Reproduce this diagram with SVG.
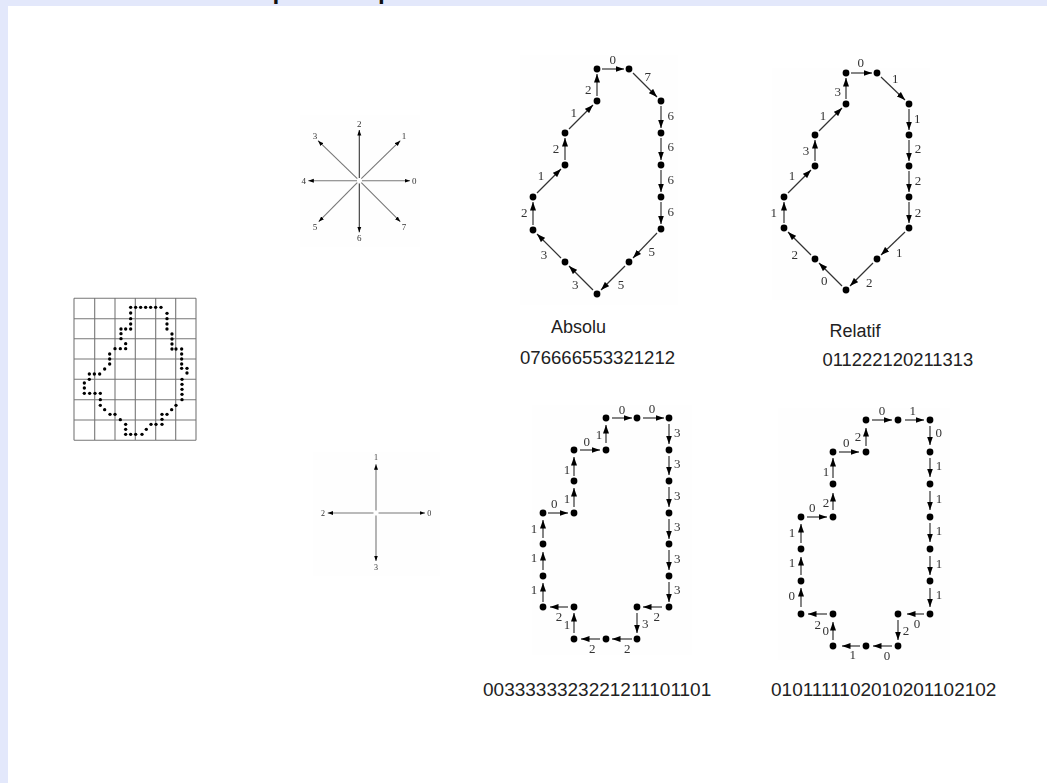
<svg xmlns="http://www.w3.org/2000/svg" width="1047" height="783" viewBox="0 0 1047 783">
<style>
.n{font-family:"Liberation Serif","Times New Roman",serif;font-size:13px;fill:#333;text-anchor:middle;dominant-baseline:central}
.s{font-family:"Liberation Serif","Times New Roman",serif;font-size:9px;fill:#333;text-anchor:middle;dominant-baseline:central}
.t{font-family:"Liberation Sans",Arial,sans-serif;fill:#222}
.c{fill:#000}
.g{stroke:#777;stroke-width:1.1;fill:none}
.a line{stroke:#333;stroke-width:1.2;marker-end:url(#ah)}
.st line{stroke:#777;stroke-width:1.1;marker-end:url(#sh)}
.st line.k{stroke:#333}
</style>
<defs>
<marker id="ah" markerUnits="userSpaceOnUse" markerWidth="9" markerHeight="7" refX="8.5" refY="3.5" orient="auto"><path d="M0,.5 L8.5,3.5 L0,6.5 z" fill="#000"/></marker>
<marker id="sh" markerUnits="userSpaceOnUse" markerWidth="6" markerHeight="5" refX="5.5" refY="2.5" orient="auto"><path d="M0,.5 L5.5,2.5 L0,4.5 z" fill="#000"/></marker>
<filter id="b" x="-5%" y="-5%" width="110%" height="110%"><feGaussianBlur stdDeviation="0.3"/></filter>
</defs>
<rect width="1047" height="783" fill="#e3e8fb"/>
<rect x="8" y="6" width="1039" height="777" fill="#fff"/>
<text x="272.5" y="-1.5" font-family="'Liberation Mono',monospace" font-weight="bold" font-size="24" fill="#111">p</text>
<text x="378" y="-1.5" font-family="'Liberation Mono',monospace" font-weight="bold" font-size="24" fill="#111">p</text>
<g fill="#fefefe"><rect x="300" y="115" width="120" height="132"/><rect x="313" y="452" width="127" height="124"/><rect x="520" y="55" width="158" height="250"/><rect x="772" y="68" width="158" height="232"/><rect x="532" y="405" width="160" height="250"/><rect x="778" y="408" width="172" height="252"/></g>

<g id="grid-figure" filter="url(#b)">
<path class="g" d="M74 298.3H196M74 318.7H196M74 338.7H196M74 359H196M74 379.3H196M74 399.7H196M74 420H196M74 440.3H196M74 298.3V440.3M94.7 298.3V440.3M115 298.3V440.3M135.3 298.3V440.3M155.7 298.3V440.3M175.7 298.3V440.3M196 298.3V440.3"/>
<g class="c" transform="translate(60 285) scale(.3333)">
<circle r="5" cx="212" cy="67"/><circle r="5" cx="227" cy="67"/><circle r="5" cx="242" cy="67"/><circle r="5" cx="257" cy="67"/><circle r="5" cx="272" cy="67"/><circle r="5" cx="287" cy="67"/><circle r="5" cx="303" cy="67"/>
<circle r="5" cx="321" cy="85"/><circle r="5" cx="321" cy="101"/><circle r="5" cx="321" cy="117"/><circle r="5" cx="321" cy="132"/>
<circle r="5" cx="336" cy="147"/><circle r="5" cx="336" cy="162"/><circle r="5" cx="336" cy="177"/><circle r="5" cx="336" cy="192"/><circle r="5" cx="348" cy="192"/>
<circle r="5" cx="365" cy="192"/><circle r="5" cx="365" cy="207"/><circle r="5" cx="365" cy="222"/><circle r="5" cx="365" cy="237"/><circle r="5" cx="365" cy="250"/><circle r="5" cx="381" cy="250"/><circle r="5" cx="381" cy="264"/>
<circle r="5" cx="366" cy="283"/><circle r="5" cx="366" cy="298"/><circle r="5" cx="366" cy="313"/><circle r="5" cx="366" cy="328"/><circle r="5" cx="366" cy="344"/>
<circle r="5" cx="348" cy="361"/><circle r="5" cx="335" cy="374"/><circle r="5" cx="321" cy="388"/><circle r="5" cx="306" cy="388"/><circle r="5" cx="306" cy="403"/><circle r="5" cx="306" cy="418"/>
<circle r="5" cx="288" cy="418"/><circle r="5" cx="273" cy="418"/><circle r="5" cx="259" cy="433"/><circle r="5" cx="246" cy="448"/><circle r="5" cx="227" cy="448"/><circle r="5" cx="212" cy="448"/><circle r="5" cx="197" cy="448"/><circle r="5" cx="197" cy="433"/><circle r="5" cx="197" cy="418"/>
<circle r="5" cx="181" cy="404"/><circle r="5" cx="165" cy="388"/><circle r="5" cx="150" cy="388"/><circle r="5" cx="134" cy="374"/><circle r="5" cx="121" cy="361"/><circle r="5" cx="121" cy="344"/><circle r="5" cx="121" cy="325"/><circle r="5" cx="105" cy="325"/><circle r="5" cx="89" cy="325"/><circle r="5" cx="73" cy="325"/><circle r="5" cx="73" cy="309"/><circle r="5" cx="73" cy="294"/>
<circle r="5" cx="88" cy="283"/><circle r="5" cx="88" cy="267"/><circle r="5" cx="103" cy="267"/><circle r="5" cx="119" cy="267"/><circle r="5" cx="134" cy="252"/><circle r="5" cx="149" cy="237"/><circle r="5" cx="149" cy="222"/><circle r="5" cx="149" cy="207"/>
<circle r="5" cx="165" cy="191"/><circle r="5" cx="181" cy="191"/><circle r="5" cx="197" cy="191"/><circle r="5" cx="197" cy="176"/><circle r="5" cx="183" cy="161"/><circle r="5" cx="183" cy="146"/><circle r="5" cx="183" cy="132"/><circle r="5" cx="197" cy="132"/><circle r="5" cx="212" cy="132"/><circle r="5" cx="212" cy="117"/><circle r="5" cx="212" cy="101"/><circle r="5" cx="212" cy="84"/>
</g>
</g>

<g id="star8" class="st" filter="url(#b)">
<line x1="362" y1="180.7" x2="410" y2="180.7"/><line class="k" x1="359.3" y1="178" x2="359.3" y2="130"/><line x1="357" y1="180.7" x2="308.3" y2="180.7"/><line class="k" x1="359.3" y1="183.5" x2="359.3" y2="232.3"/>
<line x1="361.3" y1="178.7" x2="400.3" y2="140.7"/><line x1="357.3" y1="178.7" x2="318" y2="140.7"/><line x1="357.3" y1="182.7" x2="318.7" y2="221.7"/><line x1="361.3" y1="182.7" x2="400.3" y2="221.7"/>
<text class="s" x="414.3" y="181">0</text><text class="s" x="404" y="135.7">1</text><text class="s" x="359.3" y="124.3">2</text><text class="s" x="315" y="135.7">3</text><text class="s" x="303.7" y="181">4</text><text class="s" x="315" y="226.7">5</text><text class="s" x="359.3" y="237.7">6</text><text class="s" x="404" y="226.7">7</text>
</g>
<g id="star4" class="st" filter="url(#b)">
<line x1="378.5" y1="513" x2="425" y2="513"/><line x1="376" y1="510.5" x2="376" y2="464.3"/><line x1="373.5" y1="513" x2="327.7" y2="513"/><line x1="376" y1="515.5" x2="376" y2="561"/>
<text class="s" x="429.3" y="513" style="font-size:8px">0</text><text class="s" x="376" y="457.7" style="font-size:8px">1</text><text class="s" x="323" y="513" style="font-size:8px">2</text><text class="s" x="376" y="567.7" style="font-size:8px">3</text>
</g>

<g id="connectors" class="a" filter="url(#b)">
<g id="conn-absolu8">
<line x1="602" y1="69" x2="624" y2="69"/><line x1="633" y1="73" x2="657" y2="97"/><line x1="661" y1="106" x2="661" y2="128"/><line x1="661" y1="138" x2="661" y2="160"/><line x1="661" y1="170" x2="661" y2="192"/><line x1="661" y1="202" x2="661" y2="224"/><line x1="657" y1="233" x2="633" y2="258"/><line x1="625" y1="266" x2="601" y2="290"/><line x1="593" y1="290" x2="569" y2="266"/><line x1="561" y1="258" x2="537" y2="234"/><line x1="533" y1="225" x2="533" y2="202"/><line x1="537" y1="193" x2="561" y2="169"/><line x1="565" y1="160" x2="565" y2="138"/><line x1="569" y1="129" x2="593" y2="105"/><line x1="597" y1="96" x2="597" y2="74"/>
</g>
<g id="conn-relatif8">
<line x1="851" y1="73" x2="872" y2="73"/><line x1="881" y1="77" x2="905" y2="100"/><line x1="909" y1="109" x2="909" y2="130"/><line x1="909" y1="140" x2="909" y2="161"/><line x1="909" y1="171" x2="909" y2="192"/><line x1="909" y1="202" x2="909" y2="223"/><line x1="905" y1="232" x2="881" y2="255"/><line x1="873" y1="263" x2="850" y2="286"/><line x1="842" y1="286" x2="819" y2="263"/><line x1="811" y1="255" x2="788" y2="232"/><line x1="784" y1="223" x2="784" y2="202"/><line x1="788" y1="193" x2="811" y2="170"/><line x1="815" y1="161" x2="815" y2="140"/><line x1="819" y1="131" x2="842" y2="108"/><line x1="846" y1="99" x2="846" y2="78"/>
</g>
<g id="conn-absolu4">
<line x1="612" y1="418" x2="632" y2="418"/><line x1="643" y1="418" x2="664" y2="418"/><line x1="669" y1="424" x2="669" y2="444"/><line x1="669" y1="456" x2="669" y2="475"/><line x1="669" y1="487" x2="669" y2="507"/><line x1="669" y1="519" x2="669" y2="539"/><line x1="669" y1="550" x2="669" y2="570"/><line x1="669" y1="582" x2="669" y2="602"/><line x1="662" y1="607" x2="643" y2="607"/><line x1="637" y1="613" x2="637" y2="633"/><line x1="632" y1="639" x2="612" y2="639"/><line x1="600" y1="639" x2="581" y2="639"/><line x1="574" y1="633" x2="574" y2="613"/><line x1="568" y1="607" x2="550" y2="607"/><line x1="543" y1="602" x2="543" y2="583"/><line x1="543" y1="570" x2="543" y2="552"/><line x1="543" y1="538" x2="543" y2="520"/><line x1="548" y1="513" x2="568" y2="513"/><line x1="574" y1="507" x2="574" y2="488"/><line x1="574" y1="476" x2="574" y2="457"/><line x1="580" y1="450" x2="600" y2="450"/><line x1="606" y1="443" x2="606" y2="425"/>
</g>
<g id="conn-relatif4">
<line x1="872" y1="420" x2="892" y2="420"/><line x1="905" y1="420" x2="924" y2="420"/><line x1="930" y1="426" x2="930" y2="445"/><line x1="930" y1="458" x2="930" y2="477"/><line x1="930" y1="491" x2="930" y2="510"/><line x1="930" y1="523" x2="930" y2="542"/><line x1="930" y1="556" x2="930" y2="575"/><line x1="930" y1="588" x2="930" y2="607"/><line x1="924" y1="614" x2="907" y2="614"/><line x1="898" y1="620" x2="898" y2="640"/><line x1="892" y1="646" x2="873" y2="646"/><line x1="860" y1="646" x2="842" y2="646"/><line x1="833" y1="640" x2="833" y2="622"/><line x1="827" y1="614" x2="808" y2="614"/><line x1="801" y1="607" x2="801" y2="588"/><line x1="801" y1="575" x2="801" y2="557"/><line x1="801" y1="543" x2="801" y2="524"/><line x1="807" y1="517" x2="827" y2="517"/><line x1="833" y1="510" x2="833" y2="493"/><line x1="833" y1="478" x2="833" y2="458"/><line x1="839" y1="452" x2="859" y2="452"/><line x1="866" y1="446" x2="866" y2="428"/>
</g>
</g>

<g id="nodes" class="c" filter="url(#b)">
<g id="absolu8-nodes">
<g id="a1"><circle r="3.4" cx="597" cy="69"/></g><g id="a2"><circle r="3.4" cx="629" cy="69"/></g><g id="a3"><circle r="3.4" cx="661" cy="101"/></g><g id="a4"><circle r="3.4" cx="661" cy="133"/></g><g id="a5"><circle r="3.4" cx="661" cy="165"/></g><g id="a6"><circle r="3.4" cx="661" cy="197"/></g><g id="a7"><circle r="3.4" cx="661" cy="229"/></g><g id="a8"><circle r="3.4" cx="629" cy="262"/></g><g id="a9"><circle r="3.4" cx="597" cy="294"/></g><g id="a10"><circle r="3.4" cx="565" cy="262"/></g><g id="a11"><circle r="3.4" cx="533" cy="230"/></g><g id="a12"><circle r="3.4" cx="533" cy="197"/></g><g id="a13"><circle r="3.4" cx="565" cy="165"/></g><g id="a14"><circle r="3.4" cx="565" cy="133"/></g><g id="a15"><circle r="3.4" cx="597" cy="101"/></g>
</g>
<g id="relatif8-nodes">
<g id="b1"><circle r="3.4" cx="846" cy="73"/></g><g id="b2"><circle r="3.4" cx="877" cy="73"/></g><g id="b3"><circle r="3.4" cx="909" cy="104"/></g><g id="b4"><circle r="3.4" cx="909" cy="135"/></g><g id="b5"><circle r="3.4" cx="909" cy="166"/></g><g id="b6"><circle r="3.4" cx="909" cy="197"/></g><g id="b7"><circle r="3.4" cx="909" cy="228"/></g><g id="b8"><circle r="3.4" cx="877" cy="259"/></g><g id="b9"><circle r="3.4" cx="846" cy="290"/></g><g id="b10"><circle r="3.4" cx="815" cy="259"/></g><g id="b11"><circle r="3.4" cx="784" cy="228"/></g><g id="b12"><circle r="3.4" cx="784" cy="197"/></g><g id="b13"><circle r="3.4" cx="815" cy="166"/></g><g id="b14"><circle r="3.4" cx="815" cy="135"/></g><g id="b15"><circle r="3.4" cx="846" cy="104"/></g>
</g>
<g id="absolu4-nodes">
<g id="c1"><circle r="3.4" cx="606" cy="418"/></g><g id="c2"><circle r="3.4" cx="637" cy="418"/></g><g id="c3"><circle r="3.4" cx="669" cy="418"/></g><g id="c4"><circle r="3.4" cx="669" cy="450"/></g><g id="c5"><circle r="3.4" cx="669" cy="481"/></g><g id="c6"><circle r="3.4" cx="669" cy="513"/></g><g id="c7"><circle r="3.4" cx="669" cy="544"/></g><g id="c8"><circle r="3.4" cx="669" cy="576"/></g><g id="c9"><circle r="3.4" cx="669" cy="607"/></g><g id="c10"><circle r="3.4" cx="637" cy="607"/></g><g id="c11"><circle r="3.4" cx="637" cy="639"/></g><g id="c12"><circle r="3.4" cx="606" cy="639"/></g><g id="c13"><circle r="3.4" cx="574" cy="639"/></g><g id="c14"><circle r="3.4" cx="574" cy="607"/></g><g id="c15"><circle r="3.4" cx="543" cy="607"/></g><g id="c16"><circle r="3.4" cx="543" cy="576"/></g><g id="c17"><circle r="3.4" cx="543" cy="544"/></g><g id="c18"><circle r="3.4" cx="543" cy="513"/></g><g id="c19"><circle r="3.4" cx="574" cy="513"/></g><g id="c20"><circle r="3.4" cx="574" cy="481"/></g><g id="c21"><circle r="3.4" cx="574" cy="450"/></g><g id="c22"><circle r="3.4" cx="606" cy="450"/></g>
</g>
<g id="relatif4-nodes">
<g id="d1"><circle r="3.4" cx="866" cy="420"/></g><g id="d2"><circle r="3.4" cx="898" cy="420"/></g><g id="d3"><circle r="3.4" cx="930" cy="420"/></g><g id="d4"><circle r="3.4" cx="930" cy="452"/></g><g id="d5"><circle r="3.4" cx="930" cy="484"/></g><g id="d6"><circle r="3.4" cx="930" cy="517"/></g><g id="d7"><circle r="3.4" cx="930" cy="549"/></g><g id="d8"><circle r="3.4" cx="930" cy="581"/></g><g id="d9"><circle r="3.4" cx="930" cy="614"/></g><g id="d10"><circle r="3.4" cx="898" cy="614"/></g><g id="d11"><circle r="3.4" cx="898" cy="646"/></g><g id="d12"><circle r="3.4" cx="866" cy="646"/></g><g id="d13"><circle r="3.4" cx="833" cy="646"/></g><g id="d14"><circle r="3.4" cx="833" cy="614"/></g><g id="d15"><circle r="3.4" cx="801" cy="614"/></g><g id="d16"><circle r="3.4" cx="801" cy="581"/></g><g id="d17"><circle r="3.4" cx="801" cy="549"/></g><g id="d18"><circle r="3.4" cx="801" cy="517"/></g><g id="d19"><circle r="3.4" cx="833" cy="517"/></g><g id="d20"><circle r="3.4" cx="833" cy="484"/></g><g id="d21"><circle r="3.4" cx="833" cy="452"/></g><g id="d22"><circle r="3.4" cx="866" cy="452"/></g>
</g>
</g>

<g id="code-labels" filter="url(#b)">
<text class="n" x="612.7" y="59">0</text><text class="n" x="647.7" y="76">7</text><text class="n" x="670.7" y="115">6</text><text class="n" x="670.7" y="146.7">6</text><text class="n" x="670.7" y="179.3">6</text><text class="n" x="670.7" y="211.7">6</text><text class="n" x="651.7" y="251.7">5</text><text class="n" x="621" y="284">5</text><text class="n" x="575.3" y="284.3">3</text><text class="n" x="544" y="254">3</text><text class="n" x="524.3" y="212.7">2</text><text class="n" x="541" y="175.3">1</text><text class="n" x="556" y="148.7">2</text><text class="n" x="573.7" y="112">1</text><text class="n" x="588.3" y="89">2</text>
<text class="n" x="860.7" y="62.7">0</text><text class="n" x="895.3" y="78.7">1</text><text class="n" x="917.3" y="118">1</text><text class="n" x="918" y="148.3">2</text><text class="n" x="918" y="180">2</text><text class="n" x="918" y="212">2</text><text class="n" x="899.3" y="252.3">1</text><text class="n" x="869.3" y="282.3">2</text><text class="n" x="824.3" y="280.7">0</text><text class="n" x="794.7" y="254">2</text><text class="n" x="773.7" y="212">1</text><text class="n" x="792" y="175.7">1</text><text class="n" x="806" y="150">3</text><text class="n" x="823" y="115">1</text><text class="n" x="837.7" y="91.3">3</text>
<text class="n" x="622" y="409">0</text><text class="n" x="652" y="408">0</text><text class="n" x="677.3" y="432">3</text><text class="n" x="677.3" y="463.3">3</text><text class="n" x="677.3" y="495.7">3</text><text class="n" x="677.3" y="526.7">3</text><text class="n" x="677.3" y="558.3">3</text><text class="n" x="677.3" y="589.3">3</text><text class="n" x="656.7" y="616">2</text><text class="n" x="645.3" y="623.7">3</text><text class="n" x="627.3" y="648.3">2</text><text class="n" x="592.3" y="648.3">2</text><text class="n" x="567" y="624">1</text><text class="n" x="559" y="616.7">2</text><text class="n" x="534" y="589.3">1</text><text class="n" x="534" y="557.3">1</text><text class="n" x="534" y="528">1</text><text class="n" x="554.3" y="503.7">0</text><text class="n" x="567" y="498">1</text><text class="n" x="567" y="469.3">1</text><text class="n" x="586.7" y="441.3">0</text><text class="n" x="599" y="434">1</text>
<text class="n" x="882" y="410">0</text><text class="n" x="912.7" y="410">1</text><text class="n" x="938.7" y="432.7">0</text><text class="n" x="939" y="465">1</text><text class="n" x="939" y="498.3">1</text><text class="n" x="939" y="530.7">1</text><text class="n" x="939" y="563.3">1</text><text class="n" x="939" y="594.7">1</text><text class="n" x="917" y="623.3">0</text><text class="n" x="906" y="630">2</text><text class="n" x="887" y="655">0</text><text class="n" x="852.7" y="654">1</text><text class="n" x="825.7" y="630">0</text><text class="n" x="817.7" y="624">2</text><text class="n" x="791.7" y="595.3">0</text><text class="n" x="792" y="562.7">1</text><text class="n" x="792" y="532">1</text><text class="n" x="812.3" y="507.3">0</text><text class="n" x="826" y="502.3">2</text><text class="n" x="826" y="471.3">1</text><text class="n" x="846.3" y="442.7">0</text><text class="n" x="858" y="436.7">2</text>
</g>

<g id="captions">
<text class="t" x="551" y="333.3" font-size="18">Absolu</text>
<text class="t" x="520" y="364.3" font-size="18.6">076666553321212</text>
<text class="t" x="829.5" y="336.7" font-size="18">Relatif</text>
<text class="t" x="822.5" y="366" font-size="18.4">011222120211313</text>
<text class="t" x="483" y="696" font-size="19">0033333323221211101101</text>
<text class="t" x="771" y="696" font-size="19">0101111102010201102102</text>
</g>
</svg>
